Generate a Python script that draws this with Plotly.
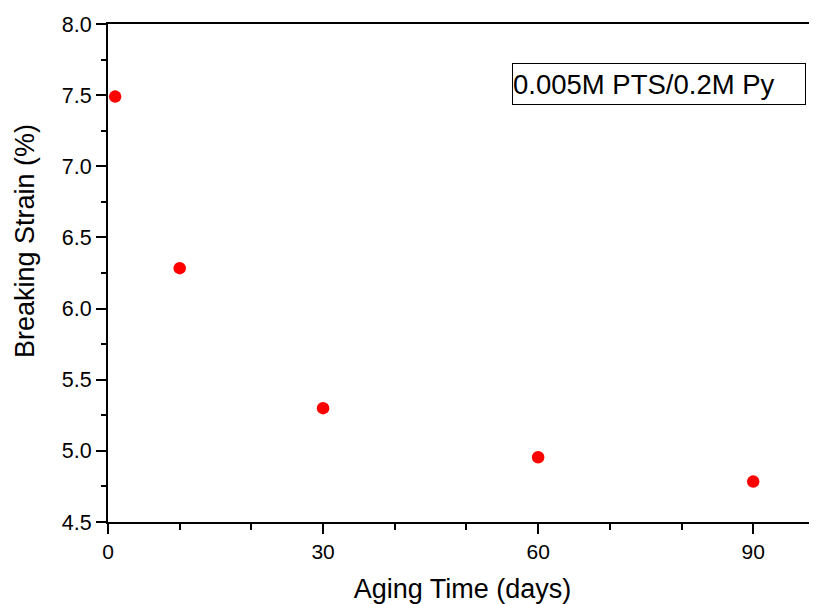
import plotly.graph_objects as go

aging_days = [1, 10, 30, 60, 90]
breaking_strain = [7.49, 6.284, 5.30, 4.955, 4.784]
series_label = "0.005M PTS/0.2M Py"
x_title = "Aging Time (days)"
y_title = "Breaking Strain (%)"
x_ticks = [0, 30, 60, 90]
y_ticks = [4.5, 5.0, 5.5, 6.0, 6.5, 7.0, 7.5, 8.0]

fig = go.Figure()
fig.add_trace(go.Scatter(
    x=aging_days, y=breaking_strain, mode="markers",
    marker=dict(color="#ff0000", size=12.5, line=dict(width=0)),
    showlegend=False, cliponaxis=False,
))

font_family = "Liberation Sans, Arial, sans-serif"
fig.update_layout(
    width=809, height=596,
    margin=dict(l=100, r=0, t=16, b=82),
    paper_bgcolor="white", plot_bgcolor="white",
    font=dict(family=font_family, color="black"),
    xaxis=dict(
        range=[0, 98.9], tickvals=x_ticks, ticktext=[str(v) for v in x_ticks],
        ticks="outside", ticklen=10, tickwidth=2, tickcolor="black",
        minor=dict(dtick=10, tick0=0, ticks="outside", ticklen=6, tickwidth=2, tickcolor="black"),
        showline=True, linewidth=2, linecolor="black", mirror=True,
        showgrid=False, zeroline=False,
        tickfont=dict(size=21),
        title=dict(text=x_title, font=dict(size=27), standoff=23),
    ),
    yaxis=dict(
        range=[4.5, 8.0], tickvals=y_ticks, ticktext=[f"{v:.1f}" for v in y_ticks],
        ticks="outside", ticklen=10, tickwidth=2, tickcolor="black",
        minor=dict(dtick=0.25, tick0=4.5, ticks="outside", ticklen=5, tickwidth=2, tickcolor="black"),
        showline=True, linewidth=2, linecolor="black", mirror=False,
        showgrid=False, zeroline=False,
        tickfont=dict(size=21.5),
    ),
    annotations=[
        dict(
            text=series_label, xref="paper", yref="paper",
            x=0.5694, y=0.921, xanchor="left", yanchor="top",
            showarrow=False, align="left",
            width=292, height=40, borderpad=0,
            bordercolor="black", borderwidth=1, bgcolor="white",
            font=dict(size=27.5, family=font_family),
        ),
        dict(
            text=y_title, xref="paper", yref="paper",
            x=(17 - 100) / 709, y=1 - (233 - 16) / 498,
            xanchor="center", yanchor="middle", textangle=-90,
            showarrow=False, font=dict(size=27, family=font_family),
        ),
    ],
)

fig.write_html("out.html")
